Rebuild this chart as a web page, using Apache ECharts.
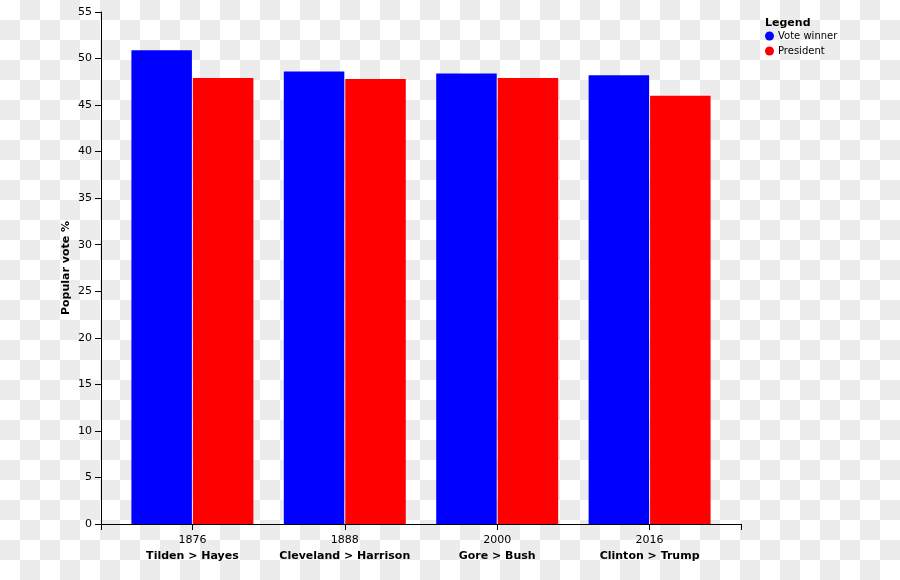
<!DOCTYPE html>
<html>
<head>
<meta charset="utf-8">
<script src="https://cdn.jsdelivr.net/npm/echarts@6/dist/echarts.min.js"></script>
<style>
html,body{margin:0;padding:0;}
#chart{width:900px;height:580px;background:repeating-conic-gradient(#ececec 0 25%, #ffffff 0 50%) 0 0/40px 40px;}
</style>
</head>
<body>
<div id="chart"></div>
<script>
const years = ['1876', '1888', '2000', '2016'];
const matchups = ['Tilden > Hayes', 'Cleveland > Harrison', 'Gore > Bush', 'Clinton > Trump'];
const voteWinner = [50.9, 48.6, 48.4, 48.2];
const president = [47.9, 47.8, 47.9, 46.0];
const yTicks = { min: 0, max: 55, interval: 5 };

const FONT = 'DejaVu Sans';
const chart = echarts.init(document.getElementById('chart'), null, { renderer: 'canvas' });
chart.setOption({
  backgroundColor: 'transparent',
  animation: false,
  textStyle: { fontFamily: FONT },
  title: {
    text: 'Legend', left: 760, top: 12.5,
    textStyle: { fontFamily: FONT, fontSize: 11, fontWeight: 'bold', color: '#000' }
  },
  legend: {
    orient: 'vertical', left: 760, top: 26, itemWidth: 9, itemHeight: 9, itemGap: 5,
    icon: 'circle',
    textStyle: { fontFamily: FONT, fontSize: 10, color: '#000', padding: [0, 0, 0, -1] },
    data: ['Vote winner', 'President']
  },
  grid: [
    { left: 116.2, right: 174.2, top: 12, bottom: 56 },
    { left: 101, right: 159, top: 12, bottom: 56 }
  ],
  xAxis: [
    {
      type: 'category', gridIndex: 0, data: years,
      axisLine: { show: false },
      axisTick: { show: true, alignWithLabel: true, length: 6, lineStyle: { color: '#000' } },
      axisLabel: {
        interval: 0, margin: 8, color: '#000', fontFamily: FONT, fontSize: 11, lineHeight: 16,
        formatter: (v, i) => v + '\n{b|' + matchups[i] + '}',
        rich: { b: { fontFamily: FONT, fontSize: 11, fontWeight: 'bold', color: '#000', lineHeight: 16 } }
      }
    },
    {
      type: 'value', gridIndex: 1, min: 0, max: 1, interval: 1,
      axisLine: { show: true, lineStyle: { color: '#000' } },
      axisTick: { show: true, length: 6, lineStyle: { color: '#000' } },
      axisLabel: { show: false },
      splitLine: { show: false }
    }
  ],
  yAxis: [
    {
      type: 'value', gridIndex: 0, min: yTicks.min, max: yTicks.max, interval: yTicks.interval,
      offset: 15.2,
      name: 'Popular vote %', nameLocation: 'middle', nameGap: 29, nameMoveOverlap: false,
      nameTextStyle: { fontFamily: FONT, fontSize: 11, fontWeight: 'bold', color: '#000' },
      axisLine: { show: true, lineStyle: { color: '#000' } },
      axisTick: { show: true, length: 6, lineStyle: { color: '#000' } },
      axisLabel: { margin: 9, color: '#000', fontFamily: FONT, fontSize: 11 },
      splitLine: { show: false }
    },
    { type: 'value', gridIndex: 1, show: false, min: 0, max: 1 }
  ],
  series: [
    {
      name: 'Vote winner', type: 'bar', xAxisIndex: 0, yAxisIndex: 0,
      data: voteWinner, barWidth: 60.5, barGap: '1.6%',
      itemStyle: { color: '#0000ff' }
    },
    {
      name: 'President', type: 'bar', xAxisIndex: 0, yAxisIndex: 0,
      data: president, barWidth: 60.5, barGap: '1.6%',
      itemStyle: { color: '#ff0000' }
    }
  ]
});
</script>
</body>
</html>
